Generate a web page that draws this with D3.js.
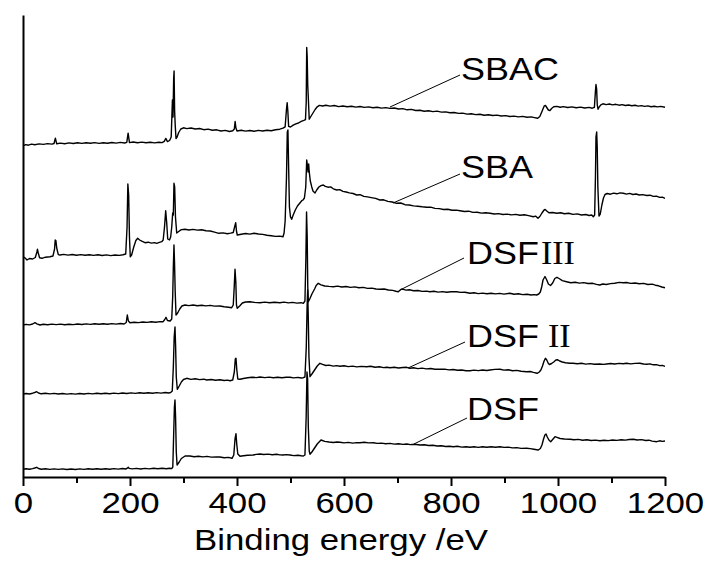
<!DOCTYPE html>
<html lang="en">
<head>
<meta charset="UTF-8">
<title>XPS survey spectra</title>
<script src="https://d3js.org/d3.v7.min.js"></script>
<style>
  body { margin: 0; background: #fff; }
  svg { display: block; }
  .axis text { font-family: "Liberation Sans", Arial, sans-serif; font-size: 30px; fill: #000; }
  .label { font-family: "Liberation Sans", Arial, sans-serif; font-size: 31px; fill: #000; }
  .numeral { font-family: "Liberation Serif", "Times New Roman", serif; font-size: 34px; fill: #000; }
</style>
</head>
<body>
<svg id="chart" width="708" height="561"></svg>
<script>
// binding energy (eV), intensity (a.u., curves offset)
const SBAC = [[0,331.0],[5,332.4],[10,331.8],[16,332.9],[22,332.3],[30,333.1],[38,332.6],[46,333.4],[54,332.9],[58,333.5],[60.5,338.8],[63,333.2],[70,333.9],[78,333.3],[86,334.1],[94,333.5],[102,334.2],[110,333.6],[118,334.3],[126,333.7],[134,334.4],[142,333.6],[150,334.2],[158,333.7],[166,334.5],[174,333.9],[182,334.6],[190,334.0],[194,334.6],[196.5,343.8],[199,334.4],[206,335.0],[214,334.3],[222,334.9],[230,334.2],[238,334.8],[246,334.1],[254,334.7],[260,334.4],[264,335.6],[267,338.6],[270,335.4],[274,336.5],[277,340],[279.3,377],[280.4,360],[281.6,398],[282.4,406],[283.4,366],[284.5,352],[286,338.5],[288,340],[291,344.5],[295,348.0],[300,349.2],[306,348.4],[314,349.0],[322,348.0],[330,348.5],[338,347.3],[346,347.9],[354,346.8],[362,347.2],[370,346.0],[378,346.6],[386,345.5],[392,346.2],[395,348],[396.5,355.5],[398,349],[400,346.0],[408,346.7],[416,345.9],[424,346.5],[432,345.8],[440,346.6],[448,346.0],[456,346.8],[464,346.2],[472,347.3],[480,347.8],[486,348.8],[490,350.2],[492.5,368],[493.8,374.3],[495,366],[496.5,350.6],[500,350.0],[505,351.8],[510,353.2],[515,354.0],[520,355.6],[525,356.6],[528,357.4],[529.4,375],[530.3,429.5],[531.2,420],[532.2,392],[533.4,378],[535,357.8],[538,360.5],[542,364.0],[546,367.5],[550,370.2],[554,371.6],[560,371.0],[566,371.8],[574,370.9],[582,371.5],[590,370.4],[598,371.0],[606,370.2],[614,370.8],[622,369.9],[630,370.5],[638,369.6],[646,370.1],[654,369.2],[662,369.8],[670,368.9],[678,369.4],[686,368.6],[694,369.0],[702,368.0],[710,368.4],[718,367.2],[726,367.6],[734,366.5],[742,366.8],[750,365.8],[758,366.3],[766,365.4],[774,365.9],[782,364.9],[790,365.1],[798,364.2],[806,364.5],[814,363.6],[822,363.9],[830,362.9],[838,363.2],[846,362.4],[854,362.7],[862,361.8],[870,362.3],[878,361.5],[886,361.9],[894,361.0],[902,361.4],[910,360.5],[918,360.9],[926,360.1],[934,360.6],[942,359.8],[950,360.1],[956,359.4],[962,358.7],[966,360.5],[970,365.5],[974,370.8],[976.5,371.6],[979,369.5],[982,367.0],[985,366.4],[988,368.5],[992,370.2],[998,370.6],[1004,369.8],[1010,370.4],[1018,369.5],[1026,370.1],[1034,369.3],[1042,369.9],[1050,369.0],[1058,369.6],[1064,368.8],[1068,369.6],[1070,386],[1071,392.5],[1072.2,388],[1073.4,372],[1074.8,367.8],[1077,370],[1080,372.2],[1084,373.2],[1090,372.4],[1096,373.0],[1102,372.1],[1108,372.7],[1114,371.8],[1120,372.4],[1126,371.5],[1132,372.0],[1138,371.2],[1144,371.7],[1150,370.9],[1156,371.4],[1162,370.6],[1168,371.1],[1174,370.3],[1180,370.8],[1186,370.1],[1192,370.6],[1200,369.7]];

const SBA = [[0,220.3],[4,219.0],[7.5,217.0],[12,218.5],[18,218.0],[23,219.5],[26,225],[27,227.7],[28.5,224],[31,219.2],[35.5,218.7],[42,219.8],[50.5,220.3],[56,221],[59,228],[60.2,237],[61.5,236.5],[63,229],[66,222.4],[69,222.0],[76,222.6],[84,221.9],[92,222.5],[100,221.8],[108,222.4],[116,221.7],[124,222.3],[132,221.6],[140,222.2],[148,221.5],[156,222.1],[164,221.4],[172,222.0],[180,221.6],[187,222.3],[192,223],[194.5,250],[196,293],[197.5,282],[199,240],[200.5,220.3],[203,222],[207,230],[211,236.5],[214.4,238.7],[218,237.0],[222,235.8],[228,234.3],[234,234.8],[240,233.9],[246,234.4],[250,233.7],[255,234.6],[259.3,235.3],[262,237],[264.5,250],[266.7,266.3],[268.5,255],[270.5,238],[273.8,237],[276,240],[278,250],[279.8,264],[281,262],[282.2,293.7],[283.5,290],[285,260],[287.3,244],[291,245.5],[296,247.4],[302.8,247.7],[310,247.0],[318,247.6],[326,246.9],[334,247.2],[342,246.3],[350,246.0],[358,244.9],[366,243.7],[374,244.1],[382,243.3],[388,243.9],[393,244.5],[395.5,250],[397.6,254.3],[399,246],[400.5,242.0],[408,242.8],[416,243.5],[424,242.9],[432,243.7],[440,243.0],[448,242.6],[456,241.8],[464,241.3],[472,240.6],[480,240.9],[486,240.3],[488,244],[490,256],[492.5,300],[494,345],[495.2,347],[496.5,310],[498,270],[500,260],[502.2,257.7],[505,262],[509,267],[513,271],[518,274.3],[521,276.3],[523.4,277.0],[526,279],[528.5,290],[530.3,317],[531.5,312],[532.8,305],[534,313],[535,305.3],[537,296],[539.6,290.3],[542,286],[545.8,284.0],[549,287],[553,290],[557,291.4],[561.3,292.0],[565,290.6],[570,289.8],[575,290.1],[580,288.2],[586.4,287.0],[592,287.4],[598,285.6],[604,285.0],[610,284.1],[617,283.5],[623.7,282.0],[630,282.3],[637,280.6],[644,280.1],[651,279.4],[659,278.6],[667,277.0],[674,277.2],[682,275.6],[690,275.0],[698.5,273.7],[706,274.0],[714,272.3],[722,272.0],[730,271.1],[738,270.8],[746,270.2],[754.6,269.7],[762,269.9],[770,268.6],[778,268.4],[786,267.5],[794,267.8],[802,266.7],[810,266.9],[816.8,266.3],[825,265.5],[833,265.8],[841,264.6],[849,264.8],[857,263.9],[865,264.2],[873,263.7],[881,263.0],[889,263.4],[897,262.5],[905,262.9],[913,262.1],[921,262.6],[929,261.7],[937,262.2],[945,261.4],[953.8,260.3],[958,260.9],[962.6,258.7],[966,260.5],[970,264],[974,267.0],[976,267.5],[979,266],[983,264.2],[990,264.5],[997.6,263.7],[1005,264.2],[1012,263.2],[1020,263.7],[1028,262.6],[1036,263.1],[1044,262.0],[1052,262.5],[1058,261.5],[1063,262.0],[1066,260.3],[1068.5,262],[1070,300],[1071,340],[1072.3,345],[1073.3,330],[1074.5,290],[1076.6,261],[1079,263],[1082,272],[1085,279],[1087.9,282.5],[1092,283.5],[1098,282.8],[1104,283.9],[1110,283.2],[1116,284.1],[1122,283.7],[1128,282.9],[1134,283.6],[1140,282.5],[1146,283.0],[1152,282.0],[1158,282.4],[1166,281.5],[1172,281.8],[1178,280.6],[1184,280.9],[1190,279.6],[1195,279.8],[1200,278.7]];

const DSF3 = [[0,152.0],[6,152.6],[12,152.1],[18,153.0],[22.4,154.3],[26,153.2],[31.8,152.0],[38,152.8],[46,152.3],[54,152.9],[62,152.4],[70,152.9],[78,152.3],[86,152.8],[94,152.4],[102,153.0],[110,152.5],[118,153.1],[126,152.6],[134,153.2],[142,152.7],[150,153.3],[158,152.8],[166,153.4],[174,152.9],[182,153.5],[189,153.0],[193,154.5],[195,162.0],[197,156],[200,154.3],[208,154.8],[216,154.4],[224,155.0],[232,154.6],[240,155.2],[248,154.8],[256,155.4],[262,155.3],[265,157.5],[267.3,159.7],[270,156.5],[275,156.0],[278,158],[279.8,180],[281,210],[282.2,232],[283.2,215],[284.5,185],[286,162.0],[289,164],[293,168],[297,171.0],[302.8,172.0],[310,171.4],[318,172.0],[326,171.3],[334,171.8],[342,171.1],[350,171.6],[358,170.9],[368,171.0],[376,170.2],[384,169.7],[390,169.3],[393,172],[394.8,190],[396.3,207.7],[397.8,195],[399,172],[400.5,168.7],[405,171],[410,174.0],[416,175.0],[424.3,175.3],[432,174.6],[443,174.3],[452,174.9],[461,174.2],[470,174.8],[480,174.3],[488,174.9],[496,174.1],[504,174.6],[512,173.9],[520,174.3],[524,173.7],[527,176],[528.8,220],[530,265],[531.2,240],[532.3,190],[533.3,175.3],[536,178],[540,183],[545,188],[548,191.5],[551.9,193.7],[557,192.2],[564,191.0],[572,190.6],[580,190.3],[588,190.9],[596,190.0],[604,190.5],[612,189.6],[620,190.1],[628,189.2],[636,189.6],[644,188.6],[652,188.9],[660,188.0],[667,187.7],[675,188.0],[683,187.0],[691,186.6],[697,185.8],[701.5,185.3],[704,186.5],[707,187.8],[710.8,187.7],[716,186.9],[722,187.2],[730,186.2],[738,186.5],[746,185.6],[754,185.9],[760.7,185.3],[768,185.7],[776,184.9],[784,185.4],[792,184.7],[800,185.2],[810.6,185.3],[818,184.6],[826,184.8],[835.5,183.7],[843,184.2],[851,183.4],[859,183.9],[867,183.2],[875,183.7],[883,183.1],[891,183.6],[899,182.9],[910,183.7],[918,182.8],[926,183.2],[934,182.4],[942,182.8],[950,182.0],[955,182.4],[960,182.0],[964,183],[967,185],[969.5,190],[972,197],[975.7,200.5],[979,197],[982,193],[986,191.5],[990,194],[994,198.5],[998,199.7],[1002,198.5],[1008,196.4],[1016,195.3],[1024,194.2],[1032,194.8],[1040,193.9],[1048,194.4],[1056,193.5],[1065,193.7],[1072,192.6],[1078,192.0],[1084,193.0],[1090,192.5],[1098,193.4],[1106,193.8],[1114,194.6],[1122,194.2],[1128,194.5],[1136,193.6],[1144,194.0],[1152,193.2],[1160,193.6],[1168,192.5],[1176,192.9],[1182,191.8],[1188,191.2],[1194,190.0],[1200,189.2]];

const DSF2 = [[0,83.0],[6,83.5],[12,83.0],[18,83.8],[22,84.5],[25.6,85.3],[29,84.0],[34,83.2],[42,83.7],[50,83.1],[58,83.6],[66,83.0],[74,83.5],[82,82.9],[90,83.4],[98,82.9],[106,83.5],[114,83.0],[122,83.6],[130,83.1],[138,83.7],[146,83.2],[154,83.8],[162,83.3],[170,83.9],[178,83.4],[186,84.0],[194,83.5],[202,84.1],[210,83.6],[218,84.2],[226,83.7],[234,84.3],[242,83.8],[250,84.4],[258,83.9],[266,84.5],[272,84.0],[276,84.5],[279,86],[281,110],[282.6,140],[284.1,150],[285.3,130],[286.5,100],[288.4,87.7],[292,91],[296,95],[300,97.5],[306,98.7],[314,97.6],[322,98.2],[330,97.4],[338,97.8],[343.4,97.0],[352,97.5],[360,96.8],[368,97.3],[376,96.5],[382,96.9],[387,96.3],[392,97],[395,105],[396.8,118],[398.1,118.7],[399.5,108],[401.5,98],[405.6,97.7],[412,98.5],[420,99.2],[428,99.8],[436,99.4],[443,100.0],[452,99.4],[460,99.9],[468,99.3],[476,99.8],[484,99.2],[492,99.7],[499,99.7],[506,99.1],[514,99.6],[520,99.0],[524,99.3],[527,100],[529.5,130],[531,170],[532.1,187],[533.2,160],[534.5,120],[536.4,100.3],[540,103],[545,107],[550,111],[555,113.7],[560,112.6],[566,111.5],[572,111.9],[580,110.9],[586,111.4],[592.5,110.7],[600,111.2],[608,110.4],[616,110.9],[624,110.1],[632,110.6],[642.4,110.3],[650,110.7],[658,109.8],[666,110.2],[674,109.4],[680,109.8],[686,109.3],[694,109.8],[702,109.0],[710,109.5],[717.2,109.7],[723.4,108.7],[730,109.2],[738,108.4],[746,108.9],[754,108.1],[762,108.5],[770,107.7],[779.4,107.7],[788,107.9],[796,107.1],[804,107.5],[812,106.7],[820,107.0],[828,106.2],[835.5,106.3],[843,106.9],[851,106.4],[859,107.0],[867,106.5],[873,107.0],[882,107.6],[891.6,107.7],[899,106.9],[907,107.2],[915,106.3],[923,106.6],[931,105.7],[941.5,105.3],[948,105.5],[954,104.6],[961,103.7],[965,105],[968,107],[971,111],[974,116],[976.5,118.7],[979,117],[982,113.5],[984,112.5],[988,113.5],[992,115],[996,117],[999,117.3],[1003,116],[1008,115.0],[1014,114.2],[1022,113.7],[1028,113.7],[1036,113.2],[1044,113.7],[1052,112.9],[1060,113.4],[1068,112.7],[1078,113.0],[1085,112.6],[1091,113.0],[1098,113.5],[1106,113.0],[1114,113.6],[1122,113.2],[1128,113.7],[1136,113.1],[1144,113.6],[1153,113.7],[1160,113.0],[1166,112.7],[1172,113.1],[1178,112.2],[1184,112.4],[1190,111.4],[1195,111.6],[1200,110.7]];

const DSF1 = [[0,7.7],[6,8.2],[12,7.7],[18,8.4],[22,9.0],[25.6,9.7],[29,8.5],[34,7.8],[42,8.2],[50,7.6],[58,8.1],[66,7.6],[74,8.1],[82,7.5],[90,8.0],[98,7.5],[106,8.1],[114,7.6],[122,8.2],[130,7.7],[138,8.3],[146,7.8],[154,8.3],[162,7.8],[170,8.4],[178,7.9],[186,8.5],[192,8.0],[195,8.8],[196.8,9.7],[198.5,8.6],[204,8.1],[212,8.6],[220,8.0],[228,8.6],[236,8.1],[244,8.7],[252,8.2],[260,8.8],[268,8.3],[274,8.8],[278,8.4],[280,10],[281.5,40],[283,70],[284.1,77],[285.2,60],[286.5,25],[288,12.0],[292,15],[296,18.5],[303,21.0],[312,21.0],[320,20.3],[328,20.8],[336,20.1],[344,20.6],[352,19.9],[362,20.0],[368,20.0],[376,19.3],[384,19.6],[390.7,18.7],[394,22],[396.3,38],[398.1,43.3],[399.5,33],[401.5,23],[405.6,20.7],[412,21.2],[420,21.8],[430,22.0],[436,22.6],[443,23.0],[450,22.5],[458,22.9],[466,22.3],[474,22.7],[480,22.1],[486,22.0],[492,22.4],[499,22.0],[506,21.4],[514,21.8],[520,21.2],[524,21.0],[527,22],[529.3,60],[530.8,105],[532,98],[533.3,50],[535,26],[536.4,22.8],[540,25],[545,29],[550,33],[557,37.0],[564,35.6],[572,35.0],[580,34.5],[587,35.0],[592.5,34.7],[600,34.1],[608,34.6],[616,33.9],[624,34.4],[630,34.3],[638,34.8],[646,34.1],[655,34.3],[662,33.6],[670,33.9],[678,33.2],[686,33.6],[694,32.9],[702,33.3],[710,32.6],[717.2,33.0],[724,32.4],[732,32.8],[742.1,32.0],[750,32.3],[758,31.5],[766,31.8],[774,31.0],[782,31.3],[790,30.5],[797,30.8],[804.3,30.3],[812,30.7],[820,29.9],[828,30.2],[835.5,29.7],[843,30.2],[851,29.6],[859,30.2],[867,29.7],[875,30.3],[883,29.8],[891.6,30.3],[899,29.6],[907,29.9],[915,29.1],[923,29.4],[931,28.6],[941.5,28.7],[948,28.4],[955,27.8],[963.2,27.0],[967,28.5],[970,32],[973,38],[975.5,42],[977.6,43],[980,40],[983,37],[986.4,35.3],[990,37.5],[994.4,40.3],[998,39.6],[1004,38.5],[1012,38.0],[1022.4,37.7],[1030,37.2],[1038,37.6],[1046,36.8],[1054,37.2],[1062,36.5],[1070,36.9],[1078.5,36.3],[1086,36.8],[1094,36.4],[1102,37.0],[1110,36.6],[1118,37.2],[1126,36.9],[1133,37.5],[1140.8,37.7],[1148,37.0],[1156,37.4],[1164,36.5],[1170,36.8],[1176,35.9],[1184.5,35.3],[1190,36.2],[1195,35.6],[1200,36.0]];

const seriesList = [SBAC, SBA, DSF3, DSF2, DSF1];
const majorTicks = [0, 200, 400, 600, 800, 1000, 1200];
const minorTicks = [100, 300, 500, 700, 900, 1100];
const xTitle = "Binding energy /eV";

// label text + leader line, in data units (eV, a.u.)
const labels = [
  { name: "SBAC", numeral: "",    gap: 0, at: [818.7, 397], leader: [[816.8, 402], [686, 370]] },
  { name: "SBA",  numeral: "",    gap: 0, at: [818.7, 299], leader: [[816.8, 303], [691.6, 274]] },
  { name: "DSF",  numeral: "III", gap: 2, at: [829.9, 213], leader: [[824.3, 219], [704.7, 187]] },
  { name: "DSF",  numeral: "II",  gap: 9, at: [829.9, 130], leader: [[826.2, 135], [719.6, 109]] },
  { name: "DSF",  numeral: "",    gap: 0, at: [829.9, 57],  leader: [[829.9, 59], [730.8, 33]] }
];

const svg = d3.select("#chart");
const stretch = 1.16; // the original text is wider than plain Arial

const x = d3.scaleLinear().domain([0, 1200]).range([23, 665]);
const y = d3.scaleLinear().domain([0, 462]).range([477, 15]);

const line = d3.line().x(d => x(d[0])).y(d => y(d[1]));

svg.append("g")
  .selectAll("path")
  .data(seriesList)
  .enter()
  .append("path")
  .attr("d", line)
  .attr("fill", "none")
  .attr("stroke", "#000")
  .attr("stroke-width", 1.4)
  .attr("stroke-linejoin", "round");

// x axis
const xAxis = svg.append("g")
  .attr("class", "axis")
  .attr("transform", `translate(0,${y(0)})`)
  .call(d3.axisBottom(x).tickValues(majorTicks).tickSize(9).tickSizeOuter(0).tickPadding(6).tickFormat(d3.format("d")));
xAxis.select(".domain").attr("stroke-width", 2);
xAxis.selectAll(".tick line").attr("stroke-width", 2);
xAxis.selectAll(".tick text").attr("transform", `scale(${stretch},1)`);

const minor = svg.append("g")
  .attr("transform", `translate(0,${y(0)})`)
  .call(d3.axisBottom(x).tickValues(minorTicks).tickSize(6).tickFormat(""));
minor.select(".domain").remove();
minor.selectAll(".tick line").attr("stroke-width", 2);

// y axis, no ticks
const yAxis = svg.append("g")
  .attr("transform", `translate(${x(0)},0)`)
  .call(d3.axisLeft(y).ticks(0).tickSizeOuter(0));
yAxis.select(".domain").attr("stroke-width", 2);

svg.append("text")
  .attr("transform", `translate(341,550) scale(${stretch},1)`)
  .attr("text-anchor", "middle")
  .style("font-family", "'Liberation Sans', Arial, sans-serif")
  .style("font-size", "30px")
  .text(xTitle);

// labels
labels.forEach(lb => {
  svg.append("line")
    .attr("x1", x(lb.leader[0][0])).attr("y1", y(lb.leader[0][1]))
    .attr("x2", x(lb.leader[1][0])).attr("y2", y(lb.leader[1][1]))
    .attr("stroke", "#000").attr("stroke-width", 1);

  const t = svg.append("text")
    .attr("class", "label")
    .attr("transform", `translate(${x(lb.at[0])},${y(lb.at[1])}) scale(${stretch},1)`)
    .text(lb.name);

  if (lb.numeral) {
    const w = t.node().getComputedTextLength() * stretch;
    svg.append("text")
      .attr("class", "numeral")
      .attr("x", x(lb.at[0]) + w + lb.gap)
      .attr("y", y(lb.at[1]))
      .text(lb.numeral);
  }
});
</script>
</body>
</html>
